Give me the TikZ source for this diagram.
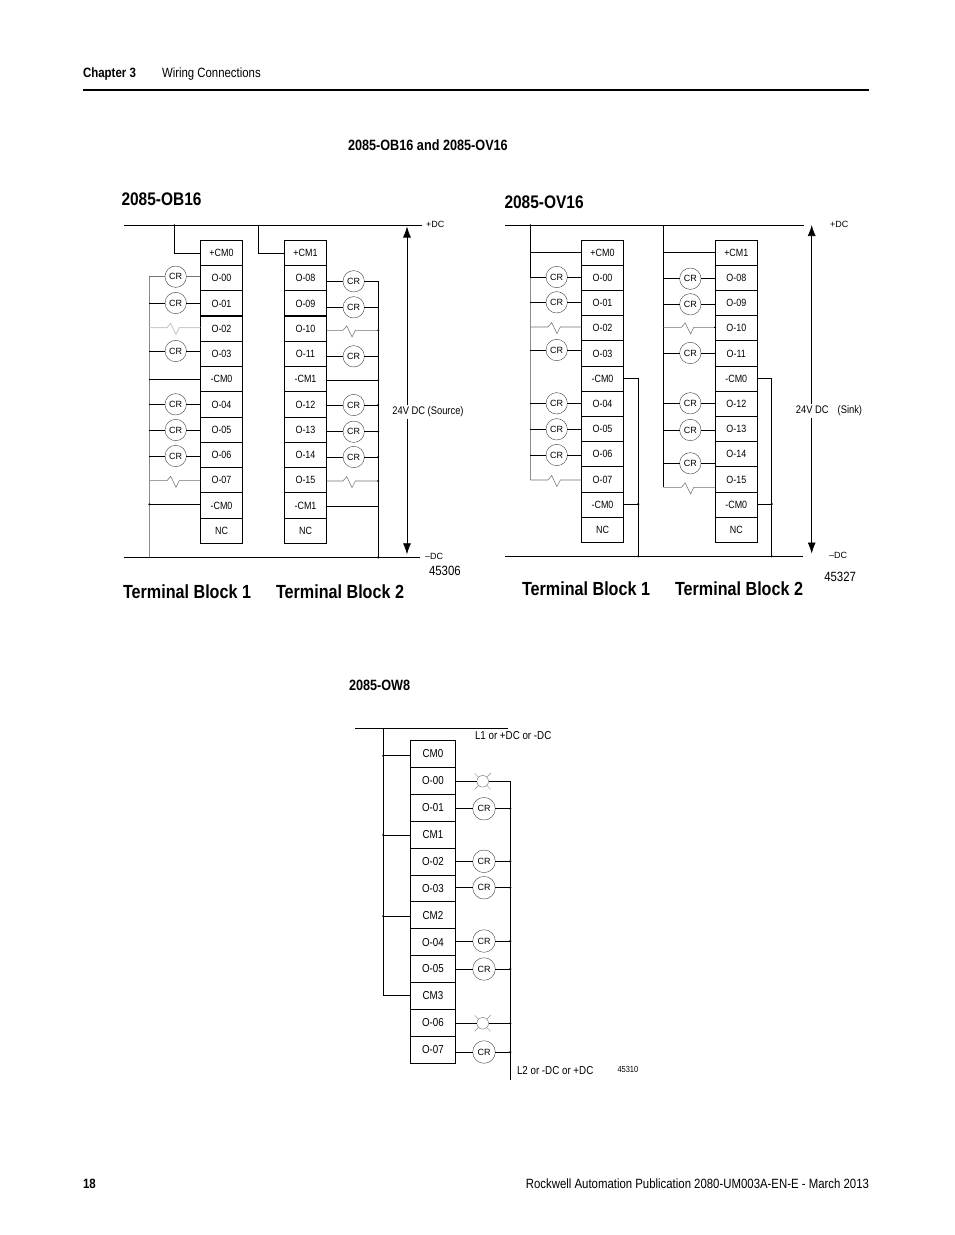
\documentclass[tikz,border=0pt]{standalone}
\usepackage{fontspec}
\setmainfont[FakeStretch=0.85]{Liberation Sans}
\newfontfamily\widefont{Liberation Sans}
\usetikzlibrary{arrows.meta, positioning}

\newcommand{\zigpath}{-- ++(3.7,-4.4) -- ++(5.3,11) -- ++(3.3,-6.6)}

\begin{document}
\begin{tikzpicture}[
    x=1pt, y=-1pt,
    every node/.style={align=center, inner sep=0pt, outer sep=0pt, font=\fontsize{10.5}{12}\selectfont},
    cell/.style={rectangle, draw, line width=0.7pt, minimum width=42.4pt, minimum height=25.25pt},
    bigcell/.style={cell, minimum width=45.4pt, minimum height=26.9pt, font=\fontsize{11.5}{13}\selectfont},
    coil/.style={circle, draw=black!75, line width=0.4pt, minimum size=21.4pt, font=\widefont\fontsize{9}{10}\selectfont},
    bigcoil/.style={coil, minimum size=22.6pt},
    lamp/.style={circle, draw=black!60, line width=0.4pt, minimum size=11.6pt},
    ray/.style={draw=black!45, line width=0.4pt},
    wire/.style={draw, line width=0.7pt},
    thinwire/.style={draw=black!55, line width=0.55pt},
    greyrail/.style={draw=black!45, line width=0.6pt},
    bus/.style={draw, line width=0.8pt},
    span/.style={{Latex[length=11pt,width=8pt]}-{Latex[length=11pt,width=8pt]}, line width=0.7pt},
    title/.style={anchor=west, font=\bfseries\fontsize{18.2}{20}\selectfont},
    blocktitle/.style={anchor=west, font=\bfseries\fontsize{19}{21}\selectfont},
    head/.style={anchor=west, font=\bfseries\fontsize{13.5}{15}\selectfont},
    caption/.style={anchor=west, font=\bfseries\fontsize{14.9}{16}\selectfont},
    plain/.style={anchor=west, font=\fontsize{13.4}{15}\selectfont},
    dclabel/.style={anchor=west, font=\widefont\fontsize{9}{10}\selectfont},
    tag/.style={anchor=west, font=\fontsize{11.5}{13}\selectfont}
]

\path[fill=white, use as bounding box] (0,0) rectangle (954,1235);

% Page furniture
\coordinate (ruleL) at (83,90);
\coordinate (ruleR) at (869,90);
\draw[line width=2.6pt] (ruleL) -- (ruleR);
\node[head] (chapter) at (83,74.5) {Chapter 3};
\node[plain] (section) at (162,74.5) {Wiring Connections};
\node[caption] (capA) at (348,145) {2085-OB16 and 2085-OV16};
\node[caption] (capB) at (349,685) {2085-OW8};
\node[head] (page) at (83,1184) {18};
\node[plain, anchor=east] (pub) at (869,1184) {Rockwell Automation Publication 2080-UM003A-EN-E - March 2013};

% Titles
\node[title] (obtitle) at (121.5,199) {2085-OB16};
\node[title] (ovtitle) at (504.5,202.5) {2085-OV16};
\node[blocktitle] (obtb1) at (123,591.7) {Terminal Block 1};
\node[blocktitle] (obtb2) at (276,591.7) {Terminal Block 2};
\node[blocktitle] (ovtb1) at (522,589) {Terminal Block 1};
\node[blocktitle] (ovtb2) at (675,589) {Terminal Block 2};

% Terminal blocks
\foreach \lab [count=\i] in {+CM0,O-00,O-01,O-02,O-03,-CM0,O-04,O-05,O-06,O-07,-CM0,NC} {
    \node[cell] (oba\i) at (221.5, 227.7+25.25*\i) {\lab};
    \node[cell] (ova\i) at (602.5, 227.4+25.2*\i) {\lab};
}
\foreach \lab [count=\i] in {+CM1,O-08,O-09,O-10,O-11,-CM1,O-12,O-13,O-14,O-15,-CM1,NC}
    \node[cell] (obb\i) at (305.5, 227.7+25.25*\i) {\lab};
\foreach \lab [count=\i] in {+CM1,O-08,O-09,O-10,O-11,-CM0,O-12,O-13,O-14,O-15,-CM0,NC}
    \node[cell] (ovb\i) at (736.3, 227.4+25.2*\i) {\lab};
\foreach \lab [count=\i] in {CM0,O-00,O-01,CM1,O-02,O-03,CM2,O-04,O-05,CM3,O-06,O-07}
    \node[bigcell] (ow\i) at (433, 726.9+26.9*\i) {\lab};

\draw[line width=1.3pt] (oba4.north west) -- (oba4.north east);
\draw[line width=1.3pt] (obb4.north west) -- (obb4.north east);

% 2085-OB16 supply
\coordinate (obtopL) at (124,225.3);
\coordinate (obtopR) at (421.7,225.3);
\coordinate (obbotL) at (124,557.3);
\coordinate (obbotR) at (420,557.3);
\coordinate (obtap0) at (174.3,225.3);
\coordinate (obtap1) at (258.3,225.3);
\coordinate (obrailL) at (149.3,276.7);
\coordinate (obrailR) at (378.3,281.3);
\coordinate (obspanT) at (407,226.5);
\coordinate (obspanB) at (407,554.3);
\draw[bus] (obtopL) -- (obtopR);
\draw[bus] (obbotL) -- (obbotR);
\draw[wire] (obtap0) |- (oba1.west);
\draw[wire] (obtap1) |- (obb1.west);
\draw[greyrail] (obrailL) -- (obrailL |- obbotL);
\draw[wire] (obrailR) -- (obrailR |- obbotL);
\fill (obtap0) circle [radius=1.1];
\fill (obrailR |- obbotL) circle [radius=1.3];
\draw[span] (obspanT) -- (obspanB);
\node[fill=white, font=\fontsize{11}{13}\selectfont, inner ysep=2pt] (obvolt) at (428,412) {24V DC (Source)};
\node[dclabel] (obplus) at (426,224) {+DC};
\node[dclabel] (obminus) at (425,556) {–DC};
\node[plain] (obnum) at (429,570.7) {45306};

% 2085-OB16 loads, block 1
\node[coil] (cra2) at (175.7,276.7) {CR};
\draw[thinwire] (obrailL |- cra2) -- (cra2) -- (oba2.west |- cra2);
\foreach \r/\y in {3/303,5/351,7/404.3,8/430,9/456} {
    \node[coil] (cra\r) at (175.7,\y) {CR};
    \draw[wire] (obrailL |- cra\r) -- (cra\r) -- (oba\r.west |- cra\r);
}
\coordinate (zia4) at (167,327.7);
\coordinate (zia10) at (167,480.7);
\draw[black!20, line width=1pt] (obrailL |- zia4) -- (zia4) \zigpath -- (oba4.west |- zia4);
\draw[thinwire] (obrailL |- zia10) -- (zia10) \zigpath -- (oba10.west |- zia10);
\coordinate (tia6) at (149.3,379.3);
\coordinate (tia11) at (149.3,504.3);
\draw[wire] (tia6) -- (oba6.west |- tia6);
\draw[wire] (tia11) -- (oba11.west |- tia11);
\fill (tia11) circle [radius=1.1];

% 2085-OB16 loads, block 2
\foreach \r/\y in {2/281.3,3/307.3,5/356.3,7/405,8/431.7,9/457} {
    \node[coil] (crb\r) at (353.7,\y) {CR};
    \draw[wire] (obb\r.east |- crb\r) -- (crb\r) -- (obrailR |- crb\r);
}
\foreach \r in {7,8,9} \fill (obrailR |- crb\r) circle [radius=1.1];
\coordinate (zib4) at (343,330.3);
\coordinate (zib10) at (343,481);
\draw[thinwire] (obb4.east |- zib4) -- (zib4) \zigpath -- (obrailR |- zib4);
\draw[thinwire] (obb10.east |- zib10) -- (zib10) \zigpath -- (obrailR |- zib10);
\fill (obrailR |- zib4) circle [radius=1.1];
\fill (obrailR |- zib10) circle [radius=1.1];
\coordinate (tib6) at (378.3,380.3);
\coordinate (tib11) at (378.3,506.3);
\draw[wire] (obb6.east |- tib6) -- (tib6);
\draw[wire] (obb11.east |- tib11) -- (tib11);
\fill (tib6) circle [radius=1.1];

% 2085-OV16 supply
\coordinate (ovtopL) at (505,225.3);
\coordinate (ovtopR) at (804,225.3);
\coordinate (ovbotL) at (505,556.3);
\coordinate (ovbotR) at (803,556.3);
\coordinate (ovrail1) at (530.3,225.3);
\coordinate (ovrail2) at (663.3,225.3);
\coordinate (ovret1) at (638.3,378.3);
\coordinate (ovret2) at (771.7,378.3);
\coordinate (ovspanT) at (811.7,225);
\coordinate (ovspanB) at (811.7,553.5);
\draw[bus] (ovtopL) -- (ovtopR);
\draw[bus] (ovbotL) -- (ovbotR);
\draw[wire] (ovrail1) -- (ovrail1 |- 0,276.5);
\draw[greyrail] (ovrail1 |- 0,276.5) -- (ovrail1 |- 0,480);
\draw[wire] (ovrail2) -- (ovrail2 |- 0,487.3);
\fill (ovrail1) circle [radius=1.1];
\draw[wire] (ovrail1 |- ova1.west) -- (ova1.west);
\draw[wire] (ovrail2 |- ovb1.west) -- (ovb1.west);
\draw[wire] (ova6.east |- ovret1) -| (ovret1 |- ovbotL);
\draw[wire] (ovb6.east |- ovret2) -| (ovret2 |- ovbotL);
\draw[wire] (ova11.east |- 0,504) -- (ovret1 |- 0,504);
\draw[wire] (ovb11.east |- 0,504) -- (ovret2 |- 0,504);
\foreach \p in {ovret1,ovret2} {
    \fill (\p |- 0,504) circle [radius=1.2];
    \fill (\p |- ovbotL) circle [radius=1.2];
}
\draw[span] (ovspanT) -- (ovspanB);
\node[fill=white, font=\fontsize{11}{13}\selectfont, inner ysep=2pt] (ovvolt) at (829,411) {24V DC\hspace{9pt}(Sink)};
\node[dclabel] (ovplus) at (830,224) {+DC};
\node[dclabel] (ovminus) at (829,555) {–DC};
\node[plain] (ovnum) at (824.3,576.7) {45327};

% 2085-OV16 loads
\foreach \r/\y in {2/277,3/302.3,5/350,7/403.3,8/429.3,9/455} {
    \node[coil] (cvra\r) at (556.7,\y) {CR};
    \draw[wire] (ovrail1 |- cvra\r) -- (cvra\r) -- (ova\r.west |- cvra\r);
}
\foreach \r/\y in {2/278.7,3/304.3,5/353,7/403.3,8/430,9/463.3} {
    \node[coil] (cvrb\r) at (690.3,\y) {CR};
    \draw[wire] (ovrail2 |- cvrb\r) -- (cvrb\r) -- (ovb\r.west |- cvrb\r);
}
\coordinate (ziv4) at (548,327);
\coordinate (ziv10) at (548,480);
\coordinate (ziw4) at (681.5,327.3);
\coordinate (ziw10) at (681.5,487.3);
\draw[thinwire] (ovrail1 |- ziv4) -- (ziv4) \zigpath -- (ova4.west |- ziv4);
\draw[thinwire] (ovrail1 |- ziv10) -- (ziv10) \zigpath -- (ova10.west |- ziv10);
\draw[thinwire] (ovrail2 |- ziw4) -- (ziw4) \zigpath -- (ovb4.west |- ziw4);
\draw[thinwire] (ovrail2 |- ziw10) -- (ziw10) \zigpath -- (ovb10.west |- ziw10);
\fill (ovb4.west |- ziw4) circle [radius=1.1];

% 2085-OW8
\coordinate (owtopL) at (355,728.3);
\coordinate (owtopR) at (507.7,728.3);
\coordinate (owrailL) at (383.3,728.3);
\coordinate (owrailR) at (510.3,781.3);
\coordinate (owend) at (510.3,1080);
\coordinate (owc1) at (383.3,755.7);
\coordinate (owc4) at (383.3,835);
\coordinate (owc7) at (383.3,916.3);
\coordinate (owc10) at (383.3,995.3);
\draw[bus] (owtopL) -- (owtopR);
\draw[wire] (owrailL) -- (owc10) -- (ow10.west |- owc10);
\draw[wire] (owrailR) -- (owend);
\foreach \r in {1,4,7} {
    \draw[wire] (owc\r) -- (ow\r.west |- owc\r);
    \fill (owc\r) circle [radius=1.2];
}
\foreach \r/\y in {3/808.7,5/861.3,6/887.7,8/941,9/969,12/1052} {
    \node[bigcoil] (crw\r) at (484,\y) {CR};
    \draw[wire] (ow\r.east |- crw\r) -- (crw\r) -- (owrailR |- crw\r);
    \fill (owrailR |- crw\r) circle [radius=1.2];
}
\foreach \r/\y in {2/781.3,11/1023.3} {
    \node[lamp] (lmp\r) at (482.7,\y) {};
    \draw[wire] (ow\r.east |- lmp\r) -- (lmp\r) -- (owrailR |- lmp\r);
    \foreach \a in {45,135,225,315}
        \draw[ray] (lmp\r.\a) -- ([shift={(\a:11.3pt)}]lmp\r.center);
}
\fill (owrailR |- lmp11) circle [radius=1.2];
\node[tag] (owl1) at (475,736) {L1 or +DC or -DC};
\node[tag] (owl2) at (517,1071) {L2 or -DC or +DC};
\node[anchor=west, font=\fontsize{8.8}{10}\selectfont] (ownum) at (617.5,1069) {45310};

\end{tikzpicture}
\end{document}
